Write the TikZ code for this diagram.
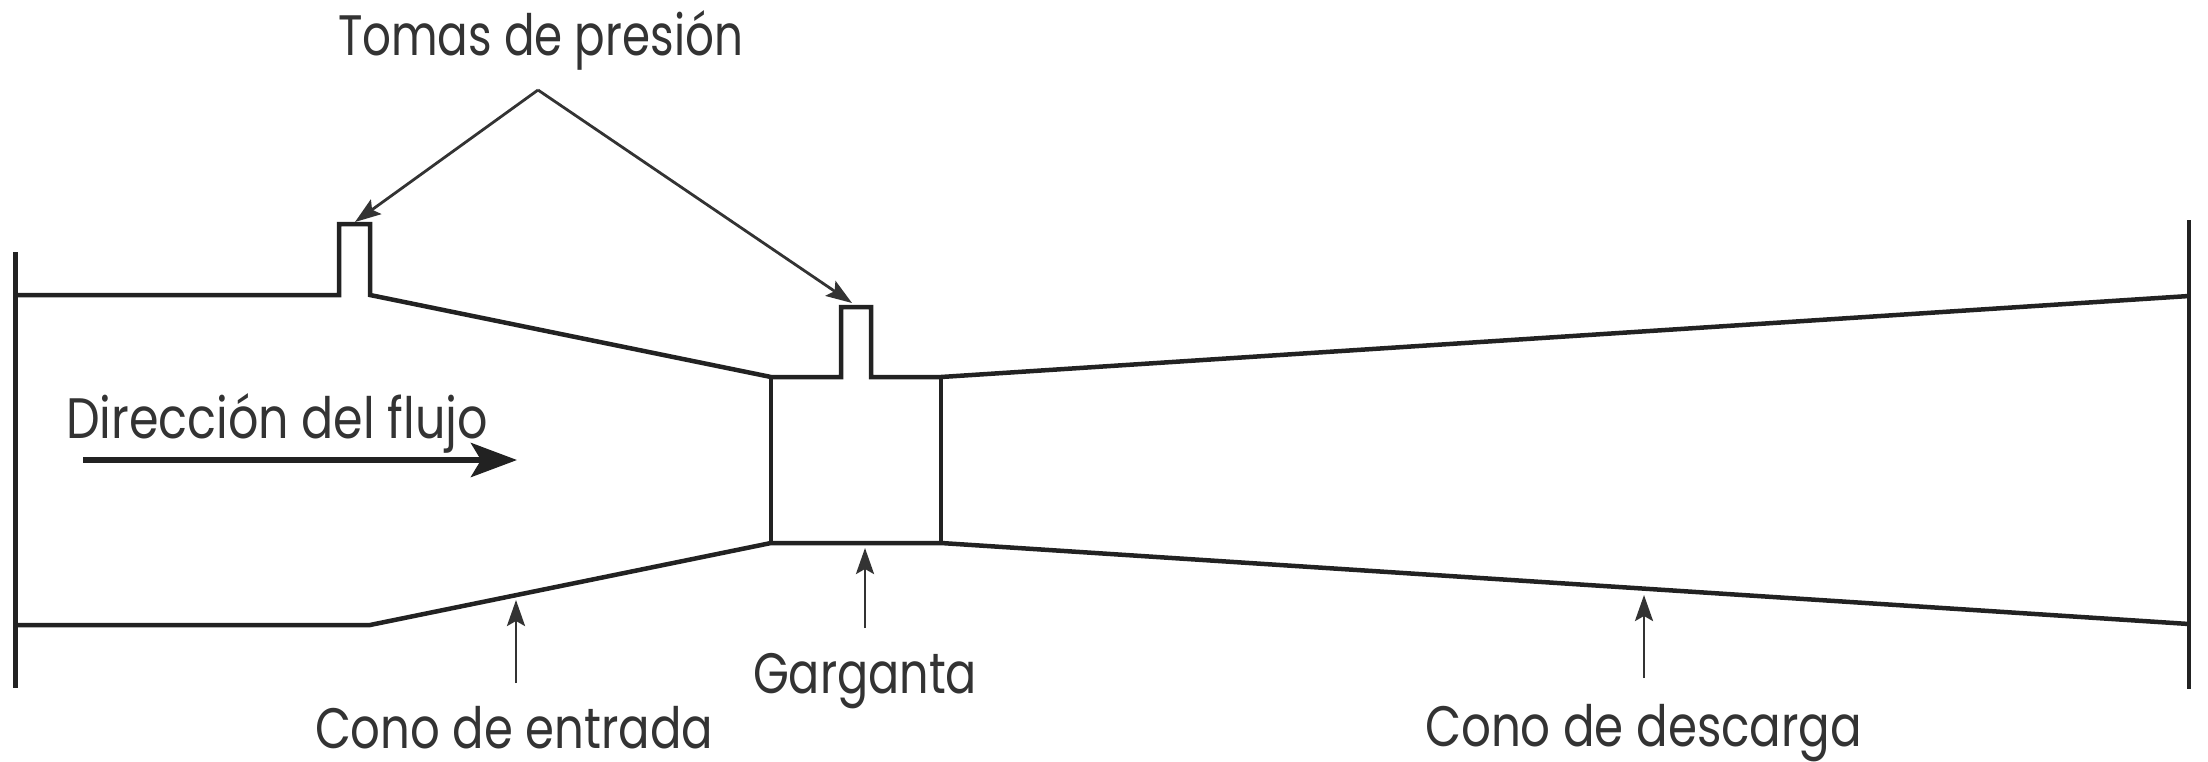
\documentclass[tikz,border=0pt]{standalone}
\usepackage{fontspec}
\setmainfont{Poppins}
\usetikzlibrary{arrows.meta}
\newcommand{\fitw}[2]{\resizebox{#1pt}{\height}{#2}}
\definecolor{ink}{HTML}{222222}
\definecolor{soft}{HTML}{333333}
\tikzset{
  wall/.style={draw=ink,line width=4.5pt,line join=miter},
  lead/.style={draw=soft,line width=2.8pt,-{Stealth[length=26pt,width=18pt,inset=5pt]}},
  flow/.style={draw=ink,line width=6pt,-{Stealth[length=46pt,width=34pt,inset=10pt]}},
  label/.style={anchor=base west,inner sep=0pt,outer sep=0pt,text=soft,font=\fontsize{57}{57}\selectfont}
}
\begin{document}
\begin{tikzpicture}[x=1pt,y=-1pt]
\useasboundingbox (0,0) rectangle (2208,761);
\fill[white] (0,0) rectangle (2208,761);
% outline points
\coordinate (LT) at (15.5,252);
\coordinate (LB) at (15.5,688);
\coordinate (RT) at (2189,220);
\coordinate (RB) at (2189,689);
\coordinate (a1) at (15.5,295);
\coordinate (a2) at (339,295);
\coordinate (a3) at (339,224);
\coordinate (a4) at (370,224);
\coordinate (a5) at (370,295);
\coordinate (a6) at (771,377);
\coordinate (a7) at (841,377);
\coordinate (a8) at (841,307);
\coordinate (a9) at (871,307);
\coordinate (a10) at (871,377);
\coordinate (a11) at (941,377);
\coordinate (a12) at (2189,296);
\coordinate (b1) at (15.5,625);
\coordinate (b2) at (370,625);
\coordinate (b3) at (771,543);
\coordinate (b4) at (941,543);
\coordinate (b5) at (2189,624);
% body
\draw[wall] (LT) -- (LB);
\draw[wall] (RT) -- (RB);
\draw[wall] (a1) -- (a2) -- (a3) -- (a4) -- (a5) -- (a6) -- (a7) -- (a8) -- (a9) -- (a10) -- (a11) -- (a12);
\draw[wall] (b1) -- (b2) -- (b3) -- (b4) -- (b5);
\draw[wall] (a6) -- (b3);
\draw[wall] (a11) -- (b4);
% labels
\node[label] (tomas) at (338,55) {\fitw{405}{Tomas de presión}};
\node[label] (dir) at (66,438) {\fitw{422}{Dirección del flujo}};
\node[label] (garg) at (753,693) {\fitw{224}{Garganta}};
\node[label] (entrada) at (315,748) {\fitw{398}{Cono de entrada}};
\node[label] (descarga) at (1425,746) {\fitw{437}{Cono de descarga}};
% leaders
\coordinate (apex) at (538,90);
\coordinate (tip1) at (355,222);
\coordinate (tip2) at (852,303);
\coordinate (f1) at (83,460);
\coordinate (f2) at (517,460);
\coordinate (e1) at (516,683);
\coordinate (e2) at (516,600);
\coordinate (g1) at (865,628);
\coordinate (g2) at (865,548);
\coordinate (d1) at (1644,678);
\coordinate (d2) at (1644,595);
\draw[lead] (apex) -- (tip1);
\draw[lead] (apex) -- (tip2);
\draw[flow] (f1) -- (f2);
\draw[lead] (e1) -- (e2);
\draw[lead] (g1) -- (g2);
\draw[lead] (d1) -- (d2);
\end{tikzpicture}
\end{document}
